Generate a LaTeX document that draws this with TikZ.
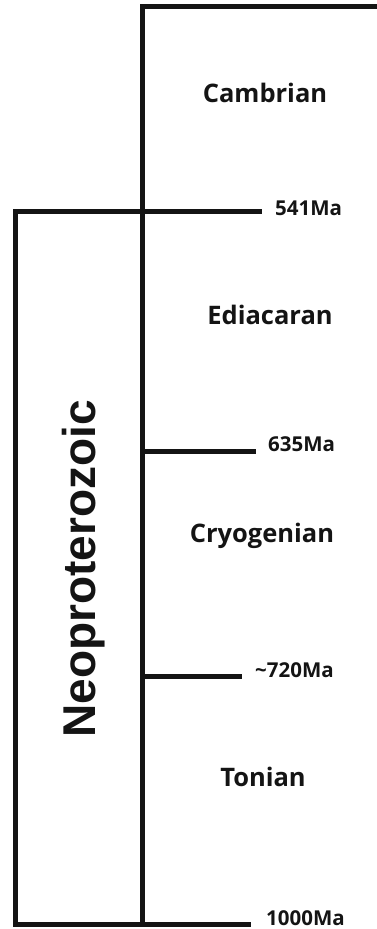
\documentclass[tikz,border=0pt]{standalone}
\usepackage{fontspec}
\setmainfont{Open Sans}
\newfontfamily\erafont{Liberation Sans}
\definecolor{ink}{HTML}{141414}
\begin{document}
\begin{tikzpicture}[x=1pt,y=-1pt,
  rule/.style={draw=ink,line width=5pt,line cap=rect,line join=miter},
  period/.style={font=\fontsize{25.5}{25.5}\selectfont\bfseries,text=ink,anchor=base,inner sep=0pt},
  age/.style={font=\fontsize{20.5}{20.5}\selectfont\bfseries,text=ink,anchor=base west,inner sep=0pt},
  era/.style={font=\erafont\fontsize{46}{46}\selectfont\bfseries,text=ink,rotate=90,anchor=base,inner sep=0pt}]
  \useasboundingbox (0,0) rectangle (377,929);
  % time axis and boundaries
  \coordinate (topR) at (377,6.5);
  \coordinate (topL) at (142,6.5);
  \coordinate (axB) at (142,924);
  \coordinate (b541L) at (15.5,211.5);
  \coordinate (b541R) at (259,211.5);
  \coordinate (b635L) at (142,451);
  \coordinate (b635R) at (253,451);
  \coordinate (b720L) at (142,676);
  \coordinate (b720R) at (239,676);
  \coordinate (b1000L) at (15.5,924);
  \coordinate (b1000R) at (248,924);
  \draw[rule] (topR) -- (topL) -- (axB);
  \draw[rule] (b1000L) -- (b541L) -- (b541R);
  \draw[rule] (b635L) -- (b635R);
  \draw[rule] (b720L) -- (b720R);
  \draw[rule] (b1000L) -- (b1000R);
  % ages
  \node[age] (a541) at (275,215) {541Ma};
  \node[age] (a635) at (268,451) {635Ma};
  \node[age] (a720) at (255,677) {\char`\~720Ma};
  \node[age] (a1000) at (266,925) {1000Ma};
  % periods
  \node[period] (cam) at (265,102) {Cambrian};
  \node[period] (edi) at (270,324) {Ediacaran};
  \node[period] (cry) at (262,542) {Cryogenian};
  \node[period] (ton) at (263,786) {Tonian};
  % era
  \node[era] (neo) at (95,569) {Neoproterozoic};
\end{tikzpicture}
\end{document}
